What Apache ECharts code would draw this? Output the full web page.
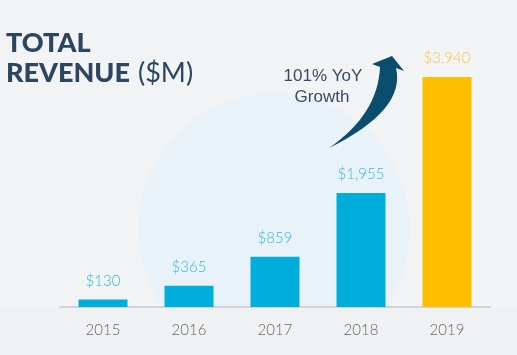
<!DOCTYPE html>
<html><head><meta charset="utf-8">
<script src="https://cdn.jsdelivr.net/npm/echarts@6/dist/echarts.min.js"></script>
<style>html,body{margin:0;padding:0;background:#f2f3f5}#c{width:517px;height:355px}</style>
</head><body><div id="c"></div>
<script>
const categories = ['2015','2016','2017','2018','2019'];
const revenue = [130, 365, 859, 1955, 3940];
const highlightIndex = 4;

function quad(p0, c, p2, n) {
  const pts = [];
  for (let i = 0; i <= n; i++) {
    const t = i / n, u = 1 - t;
    pts.push([u*u*p0[0] + 2*u*t*c[0] + t*t*p2[0], u*u*p0[1] + 2*u*t*c[1] + t*t*p2[1]]);
  }
  return pts;
}
const arrowPts = quad([329,148],[378,114],[380,67],16)
  .concat([[372,64],[392,56],[404,71]])
  .concat(quad([396,68],[406,110],[329,148],16));

const chart = echarts.init(document.getElementById('c'), null, {renderer:'canvas'});
const fmt = v => '$' + v.toLocaleString('en-US');
chart.setOption({
  backgroundColor: '#f2f3f5',
  animation: false,
  grid: {left: 60, right: 27, top: 77, bottom: 48},
  graphic: [
    {type:'circle', z:-10, shape:{cx:274, cy:229, r:136}, style:{fill:'#e9f2f8'}},
    {type:'rect', z:-9, shape:{x:0, y:308, width:517, height:47}, style:{fill:'#f0f1f3'}},
    {type:'text', style:{text:'TOTAL', x:6, y:43, verticalAlign:'middle', font:'900 27px Lato', fill:'#2e4560'}},
    {type:'text', style:{text:'REVENUE', x:6, y:73, verticalAlign:'middle', font:'900 27px Lato', fill:'#2e4560'}},
    {type:'text', style:{text:'($M)', x:138, y:73, verticalAlign:'middle', font:'400 27px Lato', fill:'#2e4560'}},
    {type:'text', style:{text:'101% YoY', x:323, y:76, align:'center', verticalAlign:'middle', font:'17px "Liberation Sans"', fill:'#3b4a63'}},
    {type:'text', style:{text:'Growth', x:322, y:97, align:'center', verticalAlign:'middle', font:'17px "Liberation Sans"', fill:'#3b4a63'}},
    {type:'polygon', shape:{points: arrowPts}, style:{fill:'#0b4d6c'}}
  ],
  xAxis: {
    type:'category', data: categories,
    axisLine:{lineStyle:{color:'#d2d3d7', width:2}},
    axisTick:{show:false},
    axisLabel:{color:'#666666', fontFamily:'Lato', fontWeight:300, fontSize:15, margin:16}
  },
  yAxis: {type:'value', min:0, max:3940, show:false, splitLine:{show:false}},
  series: [{
    type:'bar', barWidth:49,
    data: revenue.map((v,i)=>({value:v,
      itemStyle:{color: i===highlightIndex ? '#fdbf00' : '#00aedb'},
      label:{color: i===highlightIndex ? '#f7c84e' : '#35b7e2'}})),
    label:{show:true, position:'top', distance:11, fontFamily:'Lato', fontWeight:300, fontSize:15,
      formatter: p => fmt(p.value)}
  }]
});
</script></body></html>
